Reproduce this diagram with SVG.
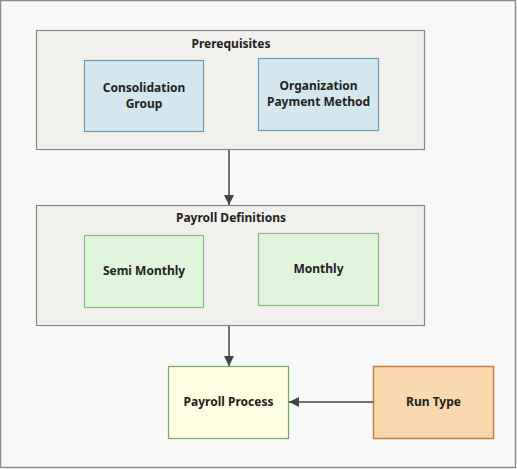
<svg xmlns="http://www.w3.org/2000/svg" width="517" height="469" viewBox="0 0 517 469">
<defs>
<marker id="ah" viewBox="0 0 10 10" refX="10" refY="5" markerWidth="10" markerHeight="10" markerUnits="userSpaceOnUse" orient="auto">
<path d="M0,0 L10,5 L0,10 z" fill="#444"/>
</marker>
<style>
text{font-family:"Noto Sans","Open Sans","DejaVu Sans",sans-serif;font-weight:bold;font-size:12px;fill:#222;text-anchor:middle}
.grp{fill:#f1f0ec;stroke:#8b8882;stroke-width:1.2}
.blue{fill:#d4e7ee;stroke:#6a9db5;stroke-width:1.2}
.green{fill:#e1f5dc;stroke:#86b880;stroke-width:1.2}
.yellow{fill:#fefee0;stroke:#76a866;stroke-width:1.2}
.orange{fill:#f9d8ae;stroke:#c57d48;stroke-width:1.5}
.conn{stroke:#444;stroke-width:1.5;fill:none;marker-end:url(#ah)}
</style>
</defs>
<rect x="0.5" y="0.5" width="515" height="467" fill="#f8f8f8" stroke="#8d8d8d" stroke-width="1.5"/>
<g id="prerequisites">
<rect class="grp" x="36.5" y="30.5" width="388" height="119"/>
<text x="231" y="48">Prerequisites</text>
</g>
<g id="consolidation-group">
<rect class="blue" x="84.5" y="60.5" width="119" height="71"/>
<text x="144" y="92">Consolidation</text>
<text x="144" y="108">Group</text>
</g>
<g id="organization-payment-method">
<rect class="blue" x="258.5" y="58.5" width="120" height="72"/>
<text x="318.5" y="90">Organization</text>
<text x="318.5" y="106">Payment Method</text>
</g>
<g id="payroll-definitions">
<rect class="grp" x="36.5" y="205.5" width="388" height="120"/>
<text x="231" y="222">Payroll Definitions</text>
</g>
<g id="semi-monthly">
<rect class="green" x="84.5" y="235.5" width="119" height="72"/>
<text x="144" y="275">Semi Monthly</text>
</g>
<g id="monthly">
<rect class="green" x="258.5" y="233.5" width="120" height="72"/>
<text x="318.5" y="273">Monthly</text>
</g>
<g id="payroll-process">
<rect class="yellow" x="168.5" y="366.5" width="120" height="72"/>
<text x="228.5" y="406">Payroll Process</text>
</g>
<g id="run-type">
<rect class="orange" x="373.5" y="366.5" width="120" height="72"/>
<text x="433.5" y="406">Run Type</text>
</g>
<g id="connectors">
<path class="conn" d="M229,150 L229,205"/>
<path class="conn" d="M229,326 L229,366"/>
<path class="conn" d="M373,402 L289,402"/>
</g>
</svg>
